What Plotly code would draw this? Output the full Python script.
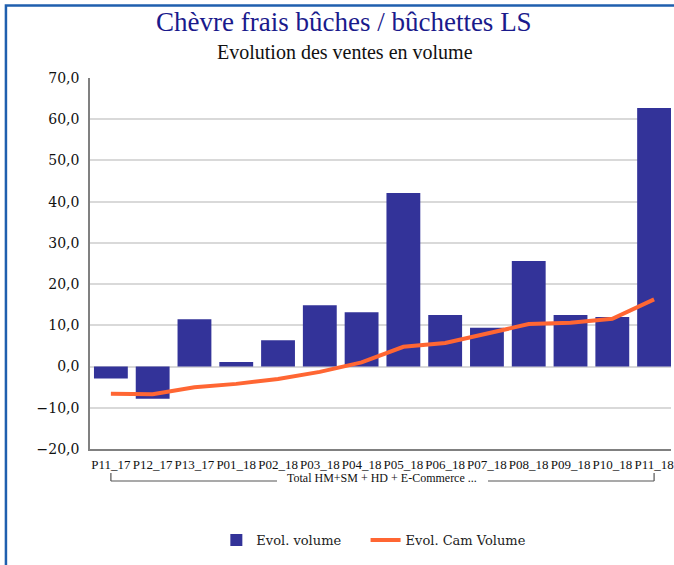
import plotly.graph_objects as go

# Periods on the category axis
periods = ["P11_17", "P12_17", "P13_17", "P01_18", "P02_18", "P03_18", "P04_18",
           "P05_18", "P06_18", "P07_18", "P08_18", "P09_18", "P10_18", "P11_18"]
group_label = "Total HM+SM + HD + E-Commerce ..."

# Series values (%)
evol_volume = [-2.9, -7.8, 11.5, 1.1, 6.4, 14.9, 13.2, 42.1, 12.5, 9.4, 25.6, 12.5, 12.0, 62.7]
evol_cam_volume = [-6.6, -6.7, -5.0, -4.2, -3.0, -1.3, 1.0, 4.8, 5.7, 7.9, 10.3, 10.6, 11.6, 16.3]

# Axis settings
y_min, y_max, y_step = -20, 70, 10

title_text = "Chèvre frais bûches / bûchettes LS"
subtitle_text = "Evolution des ventes en volume"

L, R, T, B = 90, 0, 78, 116
W, H = 674, 565
plot_w = W - L - R
plot_h = H - T - B
cat_px = 42.0  # pixel width of one category slot


def px_to_paper_x(px):
    return (px - L) / plot_w


def px_to_paper_y(py):
    return (H - B - py) / plot_h


x_idx = list(range(len(periods)))

fig = go.Figure()
fig.add_trace(go.Bar(
    x=x_idx, y=evol_volume, name="Evol. volume",
    marker=dict(color="#333399", line=dict(width=0)),
    legend="legend",
))
fig.add_trace(go.Scatter(
    x=x_idx, y=evol_cam_volume, name="Evol. Cam Volume", mode="lines",
    line=dict(color="#FF6633", width=4),
    legend="legend2",
))

serif = "Liberation Serif"
serif_wide = "DejaVu Serif"

# group bracket: two horizontal segments leaving room for the group label
mid = (x_idx[0] + x_idx[-1]) / 2
gap_half = 106 / cat_px
bracket_y = px_to_paper_y(481)
tick_top = px_to_paper_y(473)
bracket_line = dict(color="#555555", width=1.2)

legend_font = dict(family=serif_wide, size=13, color="#222222")
legend_y = px_to_paper_y(540)

fig.update_layout(
    width=W, height=H,
    margin=dict(l=L, r=R, t=T, b=B),
    paper_bgcolor="white", plot_bgcolor="white",
    separators=", ",
    bargap=0.19,
    showlegend=True,
    legend=dict(
        orientation="h", x=px_to_paper_x(217), xanchor="left",
        y=legend_y, yanchor="middle", font=legend_font,
    ),
    legend2=dict(
        orientation="h", x=px_to_paper_x(367), xanchor="left",
        y=legend_y, yanchor="middle", font=legend_font,
    ),
    xaxis=dict(
        tickmode="array", tickvals=x_idx, ticktext=periods,
        range=[-0.5, -0.5 + plot_w / cat_px],
        showgrid=False, showline=True, linecolor="#808080", linewidth=1.5,
        ticks="", tickangle=0, ticklabeloverflow="allow",
        tickfont=dict(family=serif, size=13, color="#111111"),
        ticklabelstandoff=3,
        zeroline=False,
    ),
    yaxis=dict(
        range=[y_min, y_max], dtick=y_step, tick0=0, tickformat=".1f",
        showgrid=True, gridcolor="#d9d9d9", gridwidth=1.5,
        showline=True, linecolor="#808080", linewidth=1.5,
        zeroline=False, ticks="",
        tickfont=dict(family=serif_wide, size=14, color="#111111"),
        ticklabelstandoff=6,
    ),
    annotations=[
        dict(text=title_text, xref="paper", yref="paper",
             x=px_to_paper_x(345), y=px_to_paper_y(22), xanchor="center", yanchor="middle",
             showarrow=False, font=dict(family=serif, size=27, color="#1a1a8c")),
        dict(text=subtitle_text, xref="paper", yref="paper",
             x=px_to_paper_x(346), y=px_to_paper_y(52), xanchor="center", yanchor="middle",
             showarrow=False, font=dict(family=serif, size=20, color="#111111")),
        dict(text=group_label, xref="x", yref="paper",
             x=mid, y=px_to_paper_y(478), xanchor="center", yanchor="middle",
             showarrow=False,
             font=dict(family=serif, size=12, color="#111111")),
    ],
    shapes=[
        dict(type="line", xref="x", yref="paper", x0=x_idx[0], x1=mid - gap_half,
             y0=bracket_y, y1=bracket_y, line=bracket_line),
        dict(type="line", xref="x", yref="paper", x0=mid + gap_half, x1=x_idx[-1],
             y0=bracket_y, y1=bracket_y, line=bracket_line),
        dict(type="line", xref="x", yref="paper", x0=x_idx[0], x1=x_idx[0],
             y0=tick_top, y1=bracket_y, line=bracket_line),
        dict(type="line", xref="x", yref="paper", x0=x_idx[-1], x1=x_idx[-1],
             y0=tick_top, y1=bracket_y, line=bracket_line),
        # chart frame
        dict(type="rect", xref="paper", yref="paper",
             x0=px_to_paper_x(5.5), x1=px_to_paper_x(690),
             y0=px_to_paper_y(580), y1=px_to_paper_y(5.5),
             line=dict(color="#1f5fae", width=2.5), fillcolor="rgba(0,0,0,0)"),
    ],
)

fig.write_html("out.html", config={"displayModeBar": False})
